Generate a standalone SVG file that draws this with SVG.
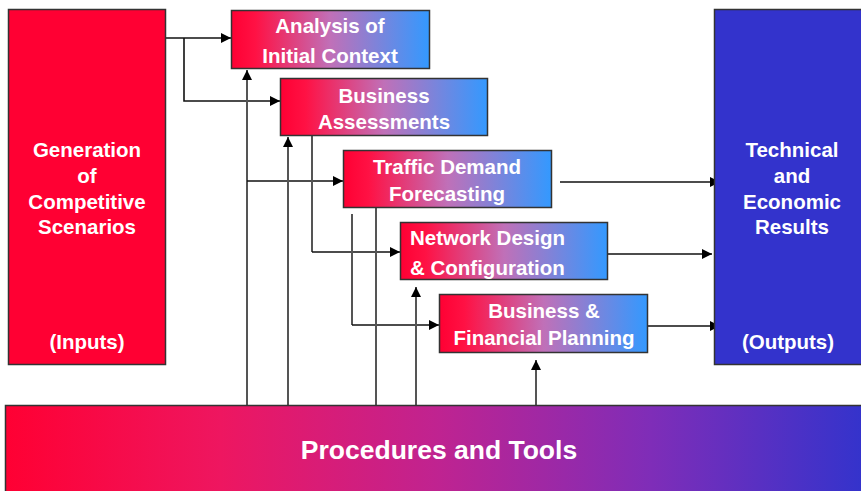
<svg xmlns="http://www.w3.org/2000/svg" width="861" height="491" viewBox="0 0 861 491">
<defs>
<linearGradient id="gBox" x1="0" y1="0" x2="1" y2="0">
<stop offset="0" stop-color="#FF0033"/>
<stop offset="0.12" stop-color="#FF1144"/>
<stop offset="0.5" stop-color="#C070B8"/>
<stop offset="1" stop-color="#3399FF"/>
</linearGradient>
<linearGradient id="gBar" x1="0" y1="0" x2="1" y2="0">
<stop offset="0" stop-color="#FF0033"/>
<stop offset="0.25" stop-color="#EE1660"/>
<stop offset="0.5" stop-color="#C02390"/>
<stop offset="0.75" stop-color="#7F2DB8"/>
<stop offset="1" stop-color="#3333CC"/>
</linearGradient>
<marker id="arr" viewBox="0 0 10 10" refX="10" refY="5" markerWidth="10" markerHeight="10" markerUnits="userSpaceOnUse" orient="auto">
<path d="M0,0 L10,5 L0,10 z" fill="#000"/>
</marker>
</defs>
<style>
.box{stroke:#333;stroke-width:1.5}
.t{font-family:"Liberation Sans",Arial,sans-serif;font-weight:bold;fill:#fff;font-size:20.5px}
.c{text-anchor:middle}
.ln{fill:none;stroke:#555;stroke-width:2}
.ar{fill:none;stroke:#111;stroke-width:1.6}
</style>
<g id="connectors">
<polyline class="ar" points="160,38 231,38" marker-end="url(#arr)"/>
<polyline class="ar" points="184,38 184,101 280,101" marker-end="url(#arr)"/>
<polyline class="ln" points="247,405 247,70" marker-end="url(#arr)"/>
<polyline class="ar" points="247,181 343,181" marker-end="url(#arr)"/>
<polyline class="ln" points="288,405 288,137" marker-end="url(#arr)"/>
<polyline class="ln" points="312,136 312,252"/>
<polyline class="ar" points="312,252 400,252" marker-end="url(#arr)"/>
<polyline class="ln" points="352,214 352,325"/>
<polyline class="ar" points="352,325 439,325" marker-end="url(#arr)"/>
<polyline class="ln" points="376,208 376,405"/>
<polyline class="ln" points="416,405 416,287" marker-end="url(#arr)"/>
<polyline class="ln" points="536,405 536,360" marker-end="url(#arr)"/>
<polyline class="ar" points="560,182 720,182" marker-end="url(#arr)"/>
<polyline class="ar" points="608,254 712,254" marker-end="url(#arr)"/>
<polyline class="ar" points="648,326 720,326" marker-end="url(#arr)"/>
</g>
<g id="inputs">
<rect class="box" x="8.5" y="9.5" width="157" height="355" fill="#FF0033"/>
<text class="t c" x="87" y="157">Generation</text>
<text class="t c" x="87" y="183">of</text>
<text class="t c" x="87" y="209">Competitive</text>
<text class="t c" x="87" y="234">Scenarios</text>
<text class="t c" x="87" y="349">(Inputs)</text>
</g>
<g id="outputs">
<rect class="box" x="714.5" y="9.5" width="150" height="355" fill="#3333CC"/>
<text class="t c" x="792" y="157">Technical</text>
<text class="t c" x="792" y="183">and</text>
<text class="t c" x="792" y="209">Economic</text>
<text class="t c" x="792" y="234">Results</text>
<text class="t c" x="788" y="349">(Outputs)</text>
</g>
<g id="analysis">
<rect class="box" x="231.5" y="10.5" width="198" height="58" fill="url(#gBox)"/>
<text class="t c" x="330" y="33">Analysis of</text>
<text class="t c" x="330" y="63">Initial Context</text>
</g>
<g id="assessments">
<rect class="box" x="280.5" y="78.5" width="207" height="57" fill="url(#gBox)"/>
<text class="t c" x="384" y="103">Business</text>
<text class="t c" x="384" y="129">Assessments</text>
</g>
<g id="traffic">
<rect class="box" x="343.5" y="150.5" width="208" height="57" fill="url(#gBox)"/>
<text class="t c" x="447" y="174">Traffic Demand</text>
<text class="t c" x="447" y="201">Forecasting</text>
</g>
<g id="network">
<rect class="box" x="400.5" y="222.5" width="207" height="57" fill="url(#gBox)"/>
<text class="t" x="410" y="245">Network Design</text>
<text class="t" x="410" y="275">&amp; Configuration</text>
</g>
<g id="planning">
<rect class="box" x="439.5" y="294.5" width="208" height="58" fill="url(#gBox)"/>
<text class="t c" x="544" y="318">Business &amp;</text>
<text class="t c" x="544" y="345">Financial Planning</text>
</g>
<g id="procedures">
<rect class="box" x="5.5" y="405.5" width="860" height="90" fill="url(#gBar)"/>
<text class="t c" x="439" y="459" style="font-size:26.5px">Procedures and Tools</text>
</g>
</svg>
